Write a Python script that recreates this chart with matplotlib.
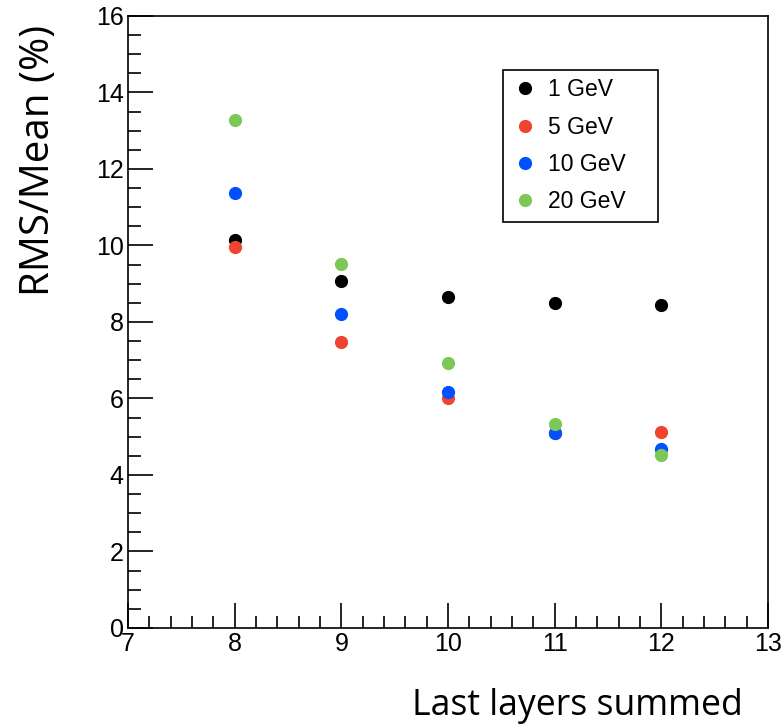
import matplotlib
matplotlib.use('Agg')
import matplotlib.pyplot as plt
from matplotlib.patches import Rectangle
from matplotlib.ticker import MultipleLocator

layers = [8, 9, 10, 11, 12]
rms_1gev = [10.15, 9.07, 8.65, 8.50, 8.45]
rms_5gev = [9.97, 7.48, 6.00, 5.10, 5.12]
rms_10gev = [11.36, 8.20, 6.17, 5.11, 4.67]
rms_20gev = [13.29, 9.51, 6.94, 5.33, 4.53]
labels = ['1 GeV', '5 GeV', '10 GeV', '20 GeV']
colors = ['black', '#ee4430', '#0050ff', '#7cc857']

fig = plt.figure(figsize=(7.83, 7.24), dpi=100)
ax = fig.add_axes([0.1635, 0.1326, 0.8175, 0.8454])

for ys, lab, c in zip([rms_1gev, rms_5gev, rms_10gev, rms_20gev], labels, colors):
    ax.plot(layers, ys, 'o', color=c, ms=8.5, mec=c, label=lab, lw=0)

ax.set_xlim(7, 13)
ax.set_ylim(0, 16)
ax.xaxis.set_major_locator(MultipleLocator(1))
ax.xaxis.set_minor_locator(MultipleLocator(0.2))
ax.yaxis.set_major_locator(MultipleLocator(2))
ax.yaxis.set_minor_locator(MultipleLocator(0.5))
ax.tick_params(which='both', direction='in', width=1.2, top=False, right=False)
ax.tick_params(which='major', length=18, pad=3)
ax.tick_params(which='minor', length=9)
for lbl in ax.get_xticklabels() + ax.get_yticklabels():
    lbl.set_family('Liberation Sans')
    lbl.set_fontsize(18)
for s in ax.spines.values():
    s.set_linewidth(1.2)

# legend box drawn separately (ROOT style)
ax.add_patch(Rectangle((0.586, 0.663), 0.242, 0.249, transform=ax.transAxes,
                       fill=False, edgecolor='black', lw=1.2, zorder=5))
ax.legend(loc='upper left', bbox_to_anchor=(0.597, 0.898), frameon=False,
          prop={'family': 'Liberation Sans', 'size': 16.5},
          handletextpad=0.35, borderpad=0, labelspacing=0.62, handlelength=1.3,
          borderaxespad=0)

fig.text(0.05, 0.779, 'RMS/Mean (%)', rotation=90, ha='center', va='center',
         family='Open Sans', fontsize=29)
fig.text(0.738, 0.0124, 'Last layers summed', ha='center', va='baseline',
         family='Open Sans', fontsize=25.7)

fig.savefig('out.png', dpi=100)
